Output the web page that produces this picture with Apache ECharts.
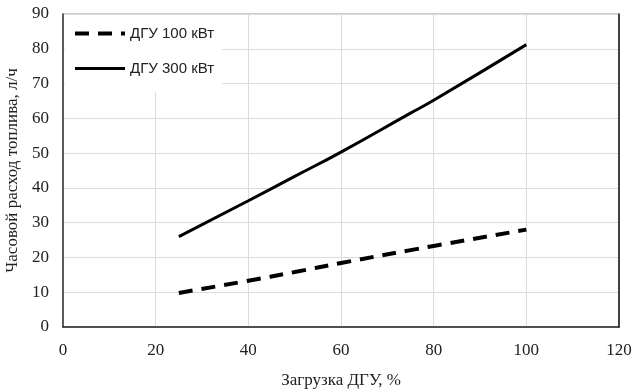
<!DOCTYPE html>
<html>
<head>
<meta charset="utf-8">
<script src="https://cdn.jsdelivr.net/npm/echarts@6/dist/echarts.min.js"></script>
<style>html,body{margin:0;padding:0;background:#fff}#c{width:636px;height:391px}</style>
</head>
<body>
<div id="c"></div>
<script>
const xValues = [25, 40, 50, 60, 75, 80, 100];
const dgu100 = [9.8, 13.3, 15.8, 18.4, 22.1, 23.3, 28.0];
const dgu300 = [26.0, 36.3, 43.3, 50.3, 61.5, 65.2, 81.2];
const seriesNames = ['ДГУ 100 кВт', 'ДГУ 300 кВт'];
const xTitle = 'Загрузка ДГУ, %';
const yTitle = 'Часовой расход топлива, л/ч';

const chart = echarts.init(document.getElementById('c'), null, {renderer: 'canvas'});
const serif = 'Liberation Serif';
const pair = (xs, ys) => xs.map((x, i) => [x, ys[i]]);
chart.setOption({
  animation: false,
  backgroundColor: '#fff',
  grid: {left: 63, right: 17, top: 14, bottom: 64, containLabel: false, outerBoundsMode: 'none',
         show: true, borderColor: '#9a9a9a', borderWidth: 1},
  legend: {
    orient: 'vertical', left: 65, top: 15,
    padding: [11, 8, 16, 8],
    backgroundColor: '#fff',
    itemWidth: 50, itemHeight: 14, itemGap: 20,
    itemStyle: {opacity: 0, borderWidth: 0},
    lineStyle: {width: 'inherit'},
    textStyle: {fontFamily: 'Liberation Sans', fontSize: 15, color: '#222'},
    data: seriesNames
  },
  xAxis: {
    type: 'value', min: 0, max: 120, interval: 20,
    name: xTitle, nameLocation: 'middle', nameGap: 45,
    nameTextStyle: {fontFamily: serif, fontSize: 17, color: '#222'},
    axisLine: {show: true, lineStyle: {color: '#222', width: 1.5}},
    axisTick: {show: false},
    axisLabel: {fontFamily: serif, fontSize: 17, color: '#222', margin: 15},
    splitLine: {show: true, lineStyle: {color: '#dcdcdc', width: 1}}
  },
  yAxis: [{
    type: 'value', min: 0, max: 90, interval: 10,
    name: yTitle, nameLocation: 'middle', nameGap: 41,
    nameTextStyle: {fontFamily: serif, fontSize: 17, color: '#222'},
    axisLine: {show: true, lineStyle: {color: '#333', width: 1.5}},
    axisTick: {show: false},
    axisLabel: {fontFamily: serif, fontSize: 17, color: '#222', margin: 14},
    splitLine: {show: true, lineStyle: {color: '#dcdcdc', width: 1}}
  }, {
    type: 'value', min: 0, max: 90, interval: 10, position: 'right',
    axisLine: {show: true, lineStyle: {color: '#111', width: 1.5}},
    axisTick: {show: false}, axisLabel: {show: false}, splitLine: {show: false}
  }],
  series: [
    {
      name: seriesNames[0], type: 'line', smooth: true, symbol: 'none',
      data: pair(xValues, dgu100),
      lineStyle: {color: '#000', width: 4, type: [14, 9]},
      itemStyle: {color: '#000'}
    },
    {
      name: seriesNames[1], type: 'line', smooth: true, symbol: 'none',
      data: pair(xValues, dgu300),
      lineStyle: {color: '#000', width: 3, type: 'solid'},
      itemStyle: {color: '#000'}
    }
  ]
});
</script>
</body>
</html>
